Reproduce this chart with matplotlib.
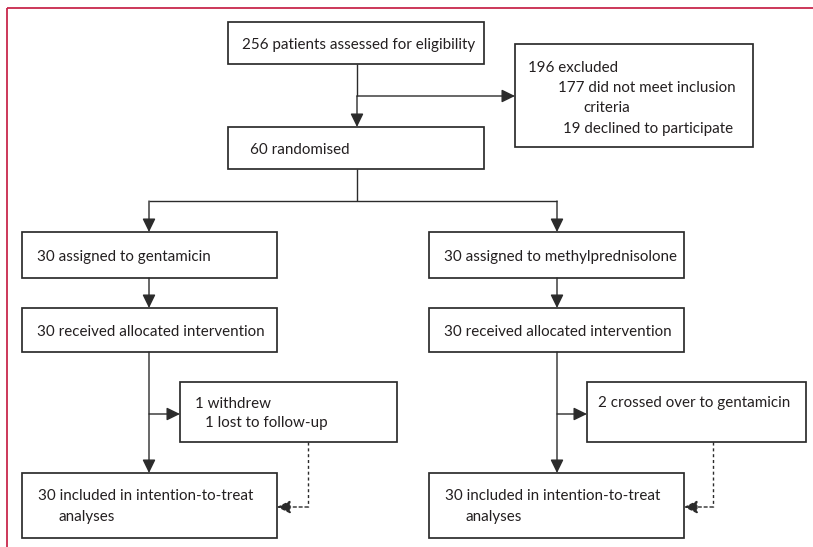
import matplotlib
matplotlib.use("Agg")
import matplotlib.pyplot as plt
from matplotlib.patches import Rectangle

# ---- content ----
screened_label = ["256 patients assessed for eligibility"]
excluded_label = ["196 excluded", "177 did not meet inclusion", "criteria", "19 declined to participate"]
randomised_label = ["60 randomised"]
arm_assigned = ["30 assigned to gentamicin", "30 assigned to methylprednisolone"]
arm_received = ["30 received allocated intervention", "30 received allocated intervention"]
arm_lost_left = ["1 withdrew", "1 lost to follow-up"]
arm_lost_right = ["2 crossed over to gentamicin"]
arm_analysed = [["30 included in intention-to-treat", "analyses"],
                ["30 included in intention-to-treat", "analyses"]]

# ---- style ----
TXT = "#231f20"
LN = "#2b2b2b"
FRAME = "#c8284c"
FONT = "Lato"
FS = 10.9
LW = 1.0

fig = plt.figure(figsize=(8.13, 5.47), dpi=100)
ax = fig.add_axes([0, 0, 1, 1])
ax.set_xlim(0, 813)
ax.set_ylim(547, 0)
ax.axis("off")

# frame
ax.plot([7, 813], [8, 8], color=FRAME, lw=1.3, solid_capstyle="butt")
ax.plot([7, 7], [8, 547], color=FRAME, lw=1.3, solid_capstyle="butt")


def box(x0, y0, x1, y1):
    ax.add_patch(Rectangle((x0, y0), x1 - x0, y1 - y0, fill=False,
                           edgecolor=LN, lw=LW * 1.25))


def txt(x, y, s):
    ax.text(x, y, s, fontsize=FS, family=FONT, color=TXT, ha="left",
            va="center_baseline")


def line(xs, ys, dashed=False):
    ax.plot(xs, ys, color=LN, lw=LW, ls=(0, (2.2, 2.0)) if dashed else "-",
            solid_capstyle="butt")


def arrow(x0, y0, x1, y1, dashed=False):
    ax.annotate("", xy=(x1, y1), xytext=(x0, y0),
                arrowprops=dict(arrowstyle="-|>,head_length=0.45,head_width=0.22",
                                mutation_scale=18, shrinkA=0, shrinkB=0,
                                color=LN, lw=LW,
                                linestyle=(0, (2.2, 2.0)) if dashed else "-"))


# top section
box(228, 22, 484, 64)
txt(242, 44, screened_label[0])

box(515, 44, 753, 147)
ex_x = [528, 558, 583, 563]
ex_y = [66, 87, 107, 128]
for s, x, y in zip(excluded_label, ex_x, ex_y):
    txt(x, y, s)

line([357, 357], [64, 96])
arrow(357, 96, 357, 127)
arrow(357, 96, 515, 96)

box(228, 127, 484, 169)
txt(250, 149, randomised_label[0])

line([357, 357], [169, 201])
line([149, 557], [201, 201])

# arms
centers = [149, 557]
lefts = [22, 429]
rights = [277, 684]
for i, (cx, l, r) in enumerate(zip(centers, lefts, rights)):
    arrow(cx, 201, cx, 232)
    box(l, 232, r, 278)
    txt(l + 15, 256, arm_assigned[i])
    arrow(cx, 278, cx, 308)
    box(l, 308, r, 352)
    txt(l + 15, 331, arm_received[i])
    arrow(cx, 352, cx, 473)
    box(l, 473, r, 538)
    txt(l + 16, 494, arm_analysed[i][0])
    txt(l + 36, 516, arm_analysed[i][1])

# side boxes
side_left = [180, 587]
side_right = [397, 806]
dash_x = [308, 713]
for i in range(2):
    arrow(centers[i], 414, side_left[i], 414)
    box(side_left[i], 382, side_right[i], 442)
    line([dash_x[i], dash_x[i]], [442, 507], dashed=True)
    arrow(dash_x[i], 507, rights[i], 507, dashed=True)

txt(195, 402, arm_lost_left[0])
txt(205, 422, arm_lost_left[1])
txt(598, 402, arm_lost_right[0])

fig.savefig("out.png", dpi=100)
